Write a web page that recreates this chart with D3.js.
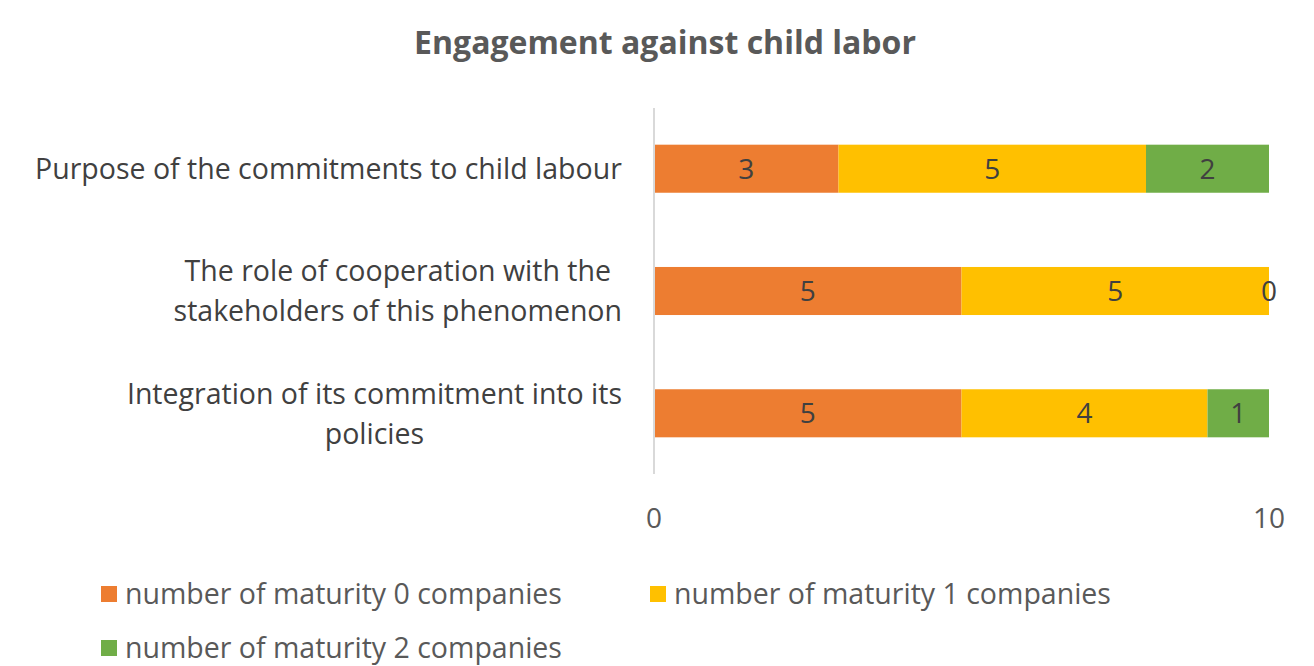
<!DOCTYPE html>
<html>
<head>
<meta charset="utf-8">
<script src="https://cdn.jsdelivr.net/npm/d3@7"></script>
<style>
  body { margin: 0; background: #fff; }
  svg text { font-family: "Open Sans", "Noto Sans", sans-serif; }
</style>
</head>
<body>
<svg width="1314" height="666"></svg>
<script>
// data
const categories = [
    ["Purpose of the commitments to child labour"],
    ["The role of cooperation with the", "stakeholders of this phenomenon"],
    ["Integration of its commitment into its", "policies"]
];
const seriesNames = [
    "number of maturity 0 companies",
    "number of maturity 1 companies",
    "number of maturity 2 companies"
];
const maturity0 = [3, 5, 5];
const maturity1 = [5, 5, 4];
const maturity2 = [2, 0, 1];
const xTicks = [0, 10];
const colors = ["#ED7D31", "#FFC000", "#70AD47"];

const svg = d3.select("svg");
const plotLeft = 654, plotRight = 1269, plotTop = 108, plotBottom = 474;
const FS = 28.5;

const x = d3.scaleLinear().domain([0, 10]).range([plotLeft, plotRight]);
const y = d3.scaleBand().domain(d3.range(categories.length)).range([plotTop, plotBottom]).paddingInner(0.607).paddingOuter(0.3);

// title
svg.append("text")
    .attr("x", 665).attr("y", 54)
    .attr("text-anchor", "middle")
    .attr("font-size", 32).attr("font-weight", "bold")
    .attr("fill", "#595959")
    .text("Engagement against child labor");

// stack
const rows = categories.map((c, i) => ({ i, v: [maturity0[i], maturity1[i], maturity2[i]] }));
const stack = d3.stack().keys([0, 1, 2]).value((d, k) => d.v[k]);
const layers = stack(rows);

const g = svg.append("g");
layers.forEach((layer, k) => {
    g.selectAll(null).data(layer).enter().append("rect")
        .attr("x", d => x(d[0]))
        .attr("y", d => y(d.data.i))
        .attr("width", d => x(d[1]) - x(d[0]))
        .attr("height", y.bandwidth())
        .attr("fill", colors[k]);
    g.selectAll(null).data(layer).enter().append("text")
        .attr("x", d => (x(d[0]) + x(d[1])) / 2)
        .attr("y", d => y(d.data.i) + y.bandwidth() / 2)
        .attr("dy", "0.36em")
        .attr("text-anchor", "middle")
        .attr("font-size", 28)
        .attr("fill", "#404040")
        .text(d => d[1] - d[0]);
});

// vertical axis line
svg.append("line")
    .attr("x1", plotLeft).attr("x2", plotLeft)
    .attr("y1", plotTop).attr("y2", plotBottom)
    .attr("stroke", "#D9D9D9").attr("stroke-width", 2);

// x tick labels
svg.append("g").selectAll("text").data(xTicks).enter().append("text")
    .attr("x", d => x(d))
    .attr("y", 518)
    .attr("dy", "0.36em")
    .attr("text-anchor", "middle")
    .attr("font-size", 28)
    .attr("fill", "#595959")
    .text(d => d);

// category labels, centred blocks right-aligned at 622
categories.forEach((lines, i) => {
    const t = svg.append("text")
        .attr("font-size", FS)
        .attr("fill", "#404040")
        .attr("text-anchor", "middle");
    const cy = y(i) + y.bandwidth() / 2;
    const lh = 40;
    lines.forEach((l, j) => {
        t.append("tspan")
            .attr("x", 0)
            .attr("y", cy + (j - (lines.length - 1) / 2) * lh)
            .attr("dy", "0.36em")
            .text(l);
    });
    const w = t.node().getBBox().width;
    t.selectAll("tspan").attr("x", 622 - w / 2);
});

// legend
const legendPos = [[101, 594], [650, 594], [101, 648]];
seriesNames.forEach((name, k) => {
    const [lx, ly] = legendPos[k];
    svg.append("rect")
        .attr("x", lx).attr("y", ly - 8)
        .attr("width", 16).attr("height", 16)
        .attr("fill", colors[k]);
    svg.append("text")
        .attr("x", lx + 24).attr("y", ly)
        .attr("dy", "0.36em")
        .attr("font-size", FS)
        .attr("fill", "#595959")
        .text(name);
});
</script>
</body>
</html>
